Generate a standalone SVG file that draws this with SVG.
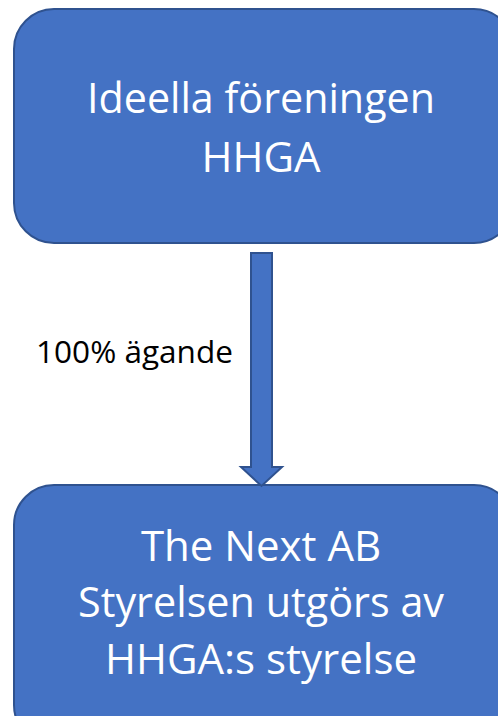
<svg xmlns="http://www.w3.org/2000/svg" width="498" height="716" viewBox="0 0 498 716">
<style>
.box{fill:#4472C4;stroke:#2F528F;stroke-width:2}
.t{font-family:"Open Sans","Liberation Sans",sans-serif;fill:#fff;text-anchor:middle;font-size:42px}
.lbl{font-family:"Open Sans","Liberation Sans",sans-serif;fill:#000;font-size:31px}
</style>
<rect width="498" height="716" fill="#fff"/>
<g id="node-hhga">
<rect class="box" x="14" y="9" width="500" height="234" rx="40"/>
<text class="t" x="261" y="113" textLength="348" lengthAdjust="spacingAndGlyphs">Ideella föreningen</text>
<text class="t" x="261" y="172">HHGA</text>
</g>
<g id="node-thenext">
<rect class="box" x="14" y="485" width="500" height="260" rx="40"/>
<text class="t" x="261" y="561">The Next AB</text>
<text class="t" x="261" y="617" textLength="366" lengthAdjust="spacingAndGlyphs">Styrelsen utgörs av</text>
<text class="t" x="261" y="674">HHGA:s styrelse</text>
</g>
<g id="connectors">
<path class="box" d="M251,253 H272 V467 H282 L261.5,486 L241,467 H251 Z"/>
<text class="lbl" x="36" y="363" textLength="197" lengthAdjust="spacingAndGlyphs">100% ägande</text>
</g>
</svg>
